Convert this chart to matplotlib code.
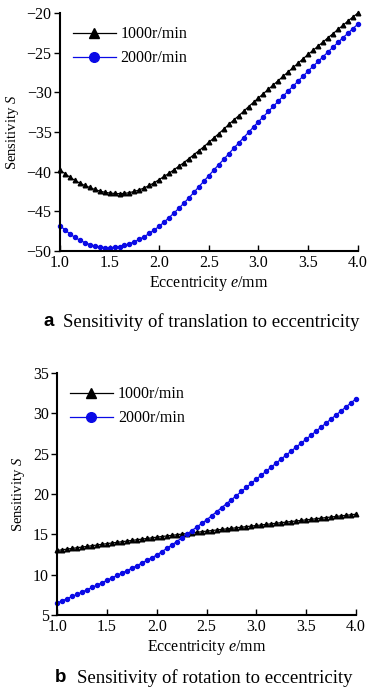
import numpy as np
import matplotlib.pyplot as plt

plt.rcParams['font.family'] = ['Liberation Serif', 'DejaVu Serif']
plt.rcParams['mathtext.fontset'] = 'custom'
plt.rcParams['mathtext.it'] = 'Liberation Serif:italic'
plt.rcParams['mathtext.rm'] = 'Liberation Serif'

# eccentricity e (mm), step 0.05
ecc = np.round(np.arange(1.0, 4.0001, 0.05), 2)

# (a) sensitivity of translation
trans_1000 = [-39.8, -40.25, -40.7, -41.1, -41.45, -41.75, -42.0, -42.25, -42.45, -42.6,
              -42.7, -42.75, -42.78, -42.75, -42.65, -42.5, -42.3, -42.05, -41.75, -41.4,
              -41.0, -40.6, -40.2, -39.75, -39.3, -38.85, -38.35, -37.85, -37.35, -36.85,
              -36.3, -35.75, -35.2, -34.65, -34.05, -33.5, -32.95, -32.4, -31.8, -31.25,
              -30.7, -30.15, -29.6, -29.05, -28.5, -27.95, -27.4, -26.85, -26.3, -25.75,
              -25.2, -24.7, -24.15, -23.65, -23.1, -22.6, -22.05, -21.55, -21.0, -20.5,
              -20.0]
trans_2000 = [-46.8, -47.35, -47.85, -48.3, -48.65, -48.95, -49.2, -49.4, -49.5, -49.58,
              -49.6, -49.55, -49.45, -49.3, -49.1, -48.85, -48.55, -48.2, -47.8, -47.35,
              -46.9, -46.35, -45.8, -45.2, -44.6, -43.95, -43.3, -42.6, -41.9, -41.2,
              -40.5, -39.8, -39.1, -38.45, -37.75, -37.05, -36.4, -35.7, -35.05, -34.35,
              -33.7, -33.05, -32.4, -31.75, -31.1, -30.45, -29.8, -29.2, -28.55, -27.95,
              -27.3, -26.7, -26.1, -25.5, -24.9, -24.3, -23.7, -23.1, -22.55, -21.95,
              -21.4]

# (b) sensitivity of rotation
rot_1000 = [13.0, 13.09, 13.17, 13.26, 13.34, 13.43, 13.51, 13.6, 13.68, 13.77,
            13.85, 13.93, 14.01, 14.09, 14.17, 14.25, 14.33, 14.41, 14.49, 14.57,
            14.65, 14.73, 14.8, 14.88, 14.95, 15.03, 15.1, 15.18, 15.25, 15.33,
            15.4, 15.47, 15.54, 15.61, 15.68, 15.75, 15.82, 15.89, 15.96, 16.03,
            16.1, 16.17, 16.24, 16.31, 16.38, 16.45, 16.52, 16.59, 16.66, 16.73,
            16.8, 16.87, 16.94, 17.01, 17.08, 17.15, 17.22, 17.29, 17.36, 17.43,
            17.5]
rot_2000 = [6.5, 6.76, 7.03, 7.3, 7.57, 7.85, 8.13, 8.42, 8.71, 9.0,
            9.3, 9.6, 9.9, 10.2, 10.5, 10.8, 11.12, 11.44, 11.77, 12.1,
            12.45, 12.85, 13.26, 13.68, 14.11, 14.55, 15.0, 15.45, 15.9, 16.35,
            16.8, 17.3, 17.8, 18.3, 18.8, 19.3, 19.81, 20.32, 20.83, 21.34,
            21.85, 22.35, 22.85, 23.35, 23.85, 24.35, 24.84, 25.33, 25.82, 26.31,
            26.8, 27.3, 27.8, 28.3, 28.8, 29.3, 29.8, 30.3, 30.8, 31.3,
            31.8]

x_ticks = [1.0, 1.5, 2.0, 2.5, 3.0, 3.5, 4.0]
labels = ["1000r/min", "2000r/min"]
BLUE = "#0a0ae6"


def draw_panel(ax, y1, y2, ylim, yticks):
    ax.plot(ecc, y1, color="black", lw=0.9, marker="^", ms=3.3, label=labels[0], clip_on=False)
    ax.plot(ecc, y2, color=BLUE, lw=0.9, marker="o", ms=2.9, label=labels[1], clip_on=False)
    ax.set_xlim(1.0, 4.0)
    ax.set_ylim(*ylim)
    ax.set_xticks(x_ticks)
    ax.set_xticklabels([f"{v:.1f}" for v in x_ticks])
    ax.set_yticks(yticks)
    ax.set_yticklabels([str(v).replace("-", "\u2212") for v in yticks])
    for s in ("top", "right"):
        ax.spines[s].set_visible(False)
    for s in ("left", "bottom"):
        ax.spines[s].set_linewidth(1.5)
    ax.tick_params(axis="x", direction="in", length=4, width=1.0, labelsize=11.5, pad=3)
    ax.tick_params(axis="y", direction="out", length=4, width=1.0, labelsize=11.5, pad=2)
    ax.set_xlabel(r"Eccentricity $e$/mm", fontsize=11.5, labelpad=2)
    ax.set_ylabel(r"Sensitivity $S$", fontsize=10.5, labelpad=4)
    ax.legend(loc="upper left", bbox_to_anchor=(0.01, 0.985), frameon=False, fontsize=11.5,
              handlelength=2.7, handletextpad=0.3, markerscale=2.4, labelspacing=0.5,
              borderaxespad=0.2)


fig = plt.figure(figsize=(3.77, 6.93), dpi=100)

ax1 = fig.add_axes([0.159, 0.638, 0.790, 0.343])
draw_panel(ax1, trans_1000, trans_2000, (-50, -20), [-50, -45, -40, -35, -30, -25, -20])

ax2 = fig.add_axes([0.152, 0.1126, 0.792, 0.349])
draw_panel(ax2, rot_1000, rot_2000, (5, 35), [5, 10, 15, 20, 25, 30, 35])

# captions
fig.text(0.115, 1 - 322 / 693, "a", fontsize=13.5, fontweight="bold", family="Liberation Sans", va="center")
fig.text(0.168, 1 - 322 / 693, "Sensitivity of translation to eccentricity", fontsize=13.5, va="center")
fig.text(0.146, 1 - 678 / 693, "b", fontsize=13.5, fontweight="bold", family="Liberation Sans", va="center")
fig.text(0.204, 1 - 678 / 693, "Sensitivity of rotation to eccentricity", fontsize=13.5, va="center")

fig.savefig("out.png", dpi=100)
